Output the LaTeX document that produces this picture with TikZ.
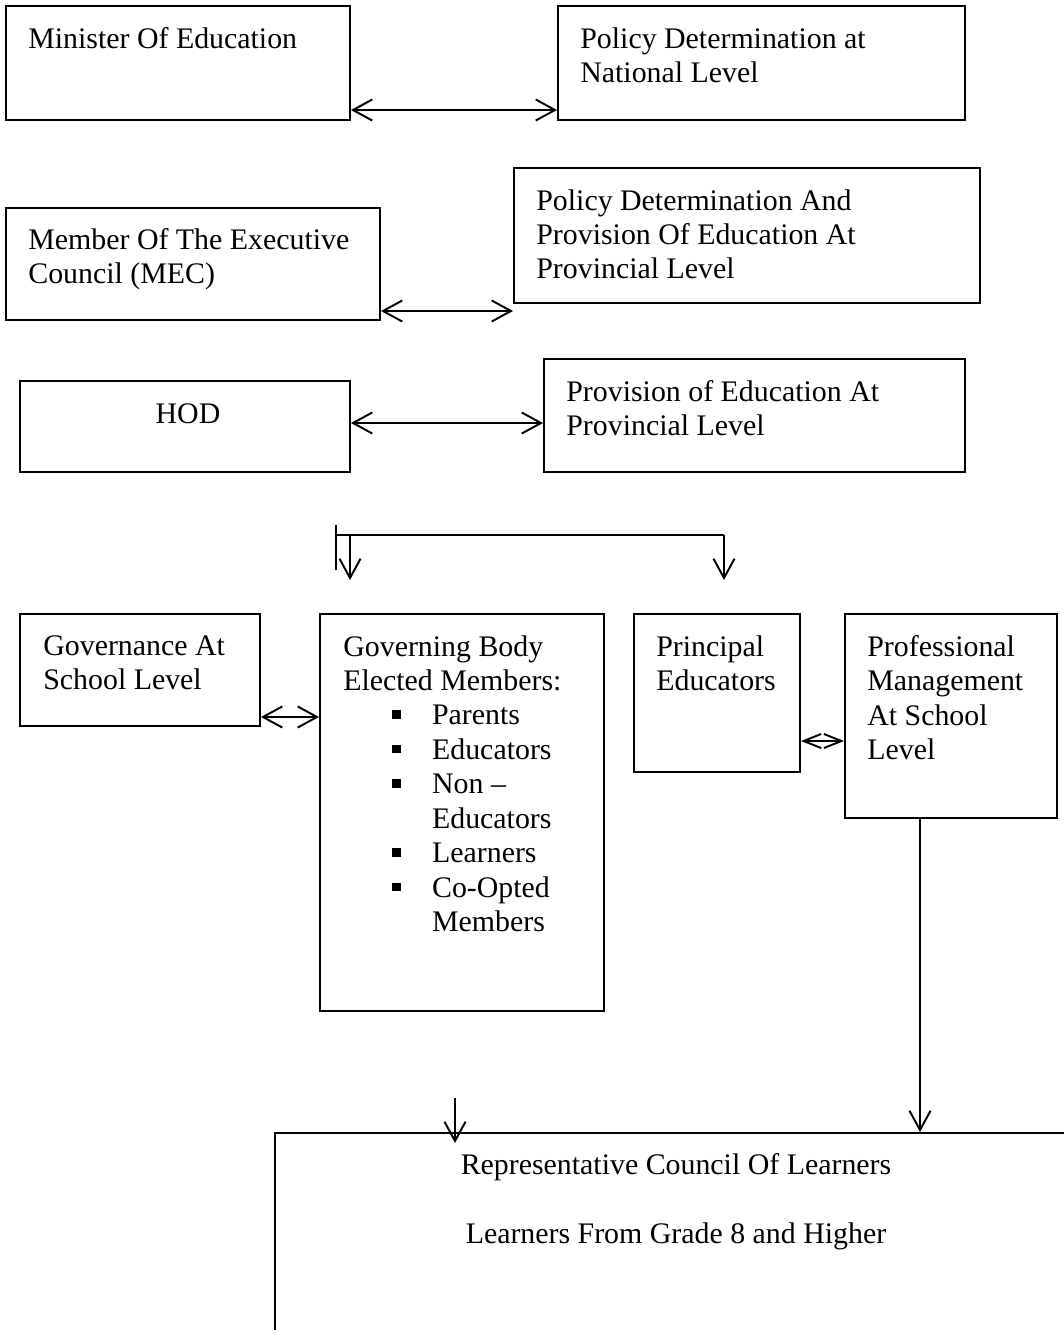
\documentclass[tikz,border=0pt]{standalone}
\usepackage{fontspec}
\setmainfont{Liberation Serif}
\usetikzlibrary{arrows.meta,fit}
\tikzstyle{box}=[draw=black,line width=1.1pt,inner sep=0pt]
\tikzstyle{txt}=[inner sep=0pt,anchor=north west,align=left,
  font=\fontsize{17}{19.6}\selectfont]
\tikzstyle{ln}=[line width=1.1pt]
\tikzstyle{dbl}=[ln,{Straight Barb[length=11pt,width=12pt]}-{Straight Barb[length=11pt,width=12pt]}]
\tikzstyle{dblsm}=[ln,{Straight Barb[length=10pt,width=8pt]}-{Straight Barb[length=10pt,width=8pt]}]
\tikzstyle{sgl}=[ln,-{Straight Barb[length=11pt,width=12pt]}]
\newcommand{\sqbul}{\rule[0.2em]{0.29em}{0.29em}}
\newcommand{\itm}[1]{\hspace*{27.8pt}\sqbul\hspace*{17.8pt}#1}
\newcommand{\itmc}[1]{\hspace*{50.5pt}#1}

\begin{document}
\begin{tikzpicture}[x=0.02cm,y=-0.02cm]
    \useasboundingbox (0,0) rectangle (1063,1330);
    % national level
    \node [box,fit={(6,6) (350,120)}] (min) {};
    \node [txt] (minT) at (28,27) {Minister Of Education};
    \node [box,fit={(558,6) (965,120)}] (pnl) {};
    \node [txt] (pnlT) at (580,27) {Policy Determination at\\National Level};
    \draw [dbl] (min.east |- 0,110) -- (pnl.west |- 0,110);
    % provincial level
    \node [box,fit={(6,208) (380,320)}] (mec) {};
    \node [txt] (mecT) at (28,228) {Member Of The Executive\\Council (MEC)};
    \node [box,fit={(514,168) (980,303)}] (ppl) {};
    \node [txt] (pplT) at (536,189) {Policy Determination And\\Provision Of Education At\\Provincial Level};
    \draw [dbl] (mec.east |- 0,311) -- (ppl.west |- 0,311);
    \node [box,fit={(20,381) (350,472)}] (hod) {};
    \node [txt,anchor=north] (hodT) at (188,403) {HOD};
    \node [box,fit={(544,359) (965,472)}] (ppv) {};
    \node [txt] (ppvT) at (566,380) {Provision of Education At\\Provincial Level};
    \draw [dbl] (hod.east |- 0,423) -- (ppv.west |- 0,423);
    % split
    \coordinate (brTop) at (336,525);
    \coordinate (brBot) at (336,570);
    \coordinate (brA) at (336,535);
    \coordinate (brB) at (724,535);
    \coordinate (brC) at (350,535);
    \draw [ln] (brTop) -- (brBot);
    \draw [ln] (brA) -- (brB);
    \draw [sgl] (brC) -- ++(0,45);
    \draw [sgl] (brB) -- ++(0,45);
    % school level
    \node [box,fit={(20,614) (260,726)}] (gov) {};
    \node [txt] (govT) at (43,635) {Governance At\\School Level};
    \node [box,fit={(320,614) (604,1011)}] (gb) {};
    \node [txt] (gbT) at (343,635) {Governing Body\\Elected Members:\\
      \itm{Parents}\\\itm{Educators}\\\itm{Non --}\\\itmc{Educators}\\
      \itm{Learners}\\\itm{Co-Opted}\\\itmc{Members}};
    \draw [dbl] (gov.east |- 0,717) -- (gb.west |- 0,717);
    \node [box,fit={(634,614) (800,772)}] (pr) {};
    \node [txt] (prT) at (656,635) {Principal\\Educators};
    \node [box,fit={(845,614) (1057,818)}] (pm) {};
    \node [txt] (pmT) at (867,635) {Professional\\Management\\At School\\Level};
    \draw [dblsm] (pr.east |- 0,741) -- (pm.west |- 0,741);
    % learners
    \node [box,fit={(275,1133) (1120,1400)}] (rcl) {};
    \node [txt,anchor=north,align=center] (rclT) at (676,1153)
      {Representative Council Of Learners\\[19.6pt]Learners From Grade 8 and Higher};
    \draw [sgl] (pm.south -| 920,0) -- (rcl.north -| 920,0);
    \coordinate (rclIn) at (455,1098);
    \draw [sgl] (rclIn) -- (rclIn |- 0,1143);
\end{tikzpicture}
\end{document}
